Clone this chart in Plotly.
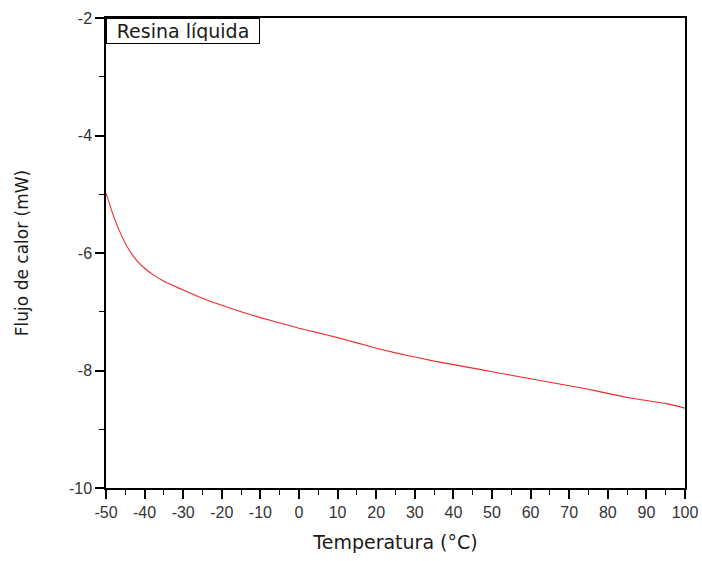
import plotly.graph_objects as go

temperatura = [-50, -48, -46, -44, -42, -40, -38, -35, -30, -25, -20, -15, -10, -5, 0, 5,
               10, 15, 20, 25, 30, 35, 40, 45, 50, 55, 60, 65, 70, 75, 80, 85, 90, 95, 100]
flujo = [-4.98, -5.38, -5.70, -5.95, -6.13, -6.26, -6.36, -6.48, -6.63, -6.77, -6.89, -7.00,
         -7.10, -7.19, -7.28, -7.36, -7.44, -7.53, -7.62, -7.70, -7.77, -7.84, -7.90, -7.96,
         -8.02, -8.08, -8.14, -8.20, -8.26, -8.32, -8.39, -8.46, -8.51, -8.56, -8.64]

x_ticks = list(range(-50, 101, 10))
y_ticks = [-10, -8, -6, -4, -2]

tick_font = "Liberation Sans, Arial, sans-serif"
title_font = "DejaVu Sans, sans-serif"

fig = go.Figure()
fig.add_trace(go.Scatter(x=temperatura, y=flujo, mode="lines",
                         line=dict(color="#f02828", width=1.1, shape="spline", smoothing=0.4),
                         showlegend=False, hoverinfo="skip"))

fig.update_layout(
    width=702, height=561,
    margin=dict(l=106, r=17, t=18, b=73),
    paper_bgcolor="white", plot_bgcolor="white",
    font=dict(family=tick_font, color="#2a2a2a"),
    xaxis=dict(range=[-50, 100], tickvals=x_ticks, ticktext=[str(v) for v in x_ticks],
               ticks="outside", ticklen=9, tickwidth=1.5, tickcolor="black",
               showline=True, linecolor="black", linewidth=1.5, mirror=True,
               showgrid=False, zeroline=False, automargin=False,
               tickfont=dict(size=16, family=tick_font, color="#333333"),
               minor=dict(dtick=5, ticks="outside", ticklen=5, tickwidth=1.2, tickcolor="black"),
               title=dict(text="Temperatura (°C)", font=dict(size=19, family=title_font, color="#1a1a1a"),
                          standoff=16)),
    yaxis=dict(range=[-10, -2], tickvals=y_ticks, ticktext=[str(v) for v in y_ticks],
               ticks="outside", ticklen=9, tickwidth=1.5, tickcolor="black",
               showline=True, linecolor="black", linewidth=1.5, mirror=True,
               showgrid=False, zeroline=False, automargin=False,
               tickfont=dict(size=16, family=tick_font, color="#333333"),
               minor=dict(dtick=1, ticks="outside", ticklen=5, tickwidth=1.2, tickcolor="black"),
               title=dict(text="Flujo de calor (mW)", font=dict(size=17, family=title_font, color="#1a1a1a"),
                          standoff=36)),
    annotations=[dict(x=0, y=1, xref="paper", yref="paper", xanchor="left", yanchor="top",
                      text="Resina líquida", showarrow=False, width=148, height=20, align="center",
                      font=dict(size=19, family=title_font, color="#1a1a1a"),
                      bordercolor="black", borderwidth=1, borderpad=2, bgcolor="white")],
)

fig.write_html("out.html")
